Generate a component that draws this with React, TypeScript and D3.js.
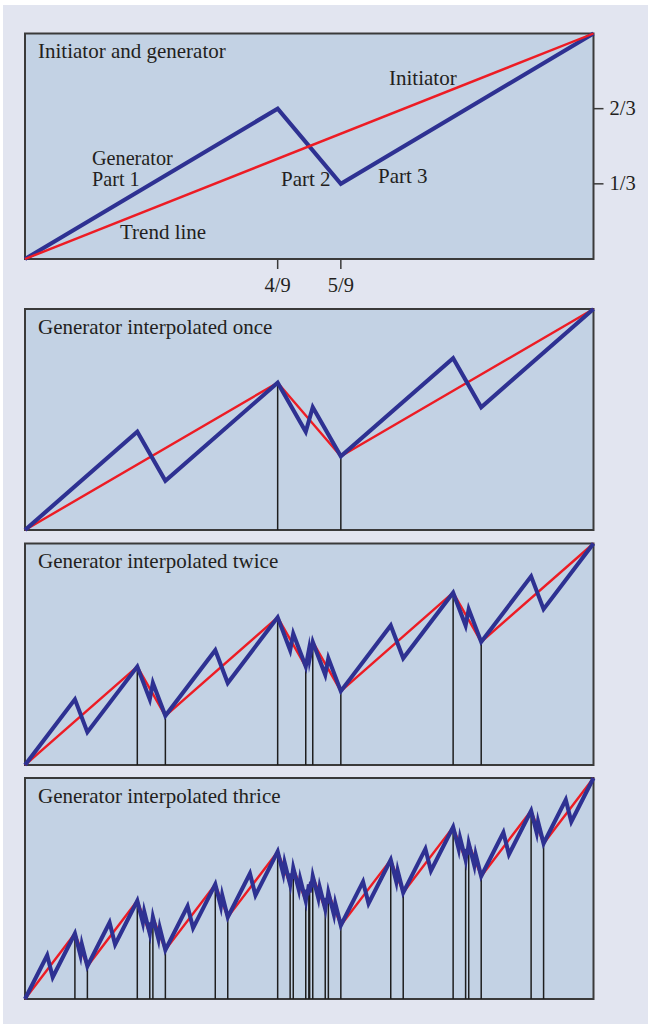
import React from "react";
import * as d3 from "d3";

// Generator of the multifractal cartoon: breakpoints on the unit square
const generatorX = [0, 4 / 9, 5 / 9, 1];
const generatorY = [0, 2 / 3, 1 / 3, 1];

// Panel titles and number of interpolation rounds shown in blue
const panelTitles = [
  "Initiator and generator",
  "Generator interpolated once",
  "Generator interpolated twice",
  "Generator interpolated thrice",
];
const panelLevels = [1, 2, 3, 4];

// Axis ticks of the first panel
const xTickValues = [4 / 9, 5 / 9];
const xTickLabels = ["4/9", "5/9"];
const yTickValues = [2 / 3, 1 / 3];
const yTickLabels = ["2/3", "1/3"];

// Annotations of the first panel
const noteTexts = ["Initiator", "Generator", "Part 1", "Part 2", "Part 3", "Trend line"];

type Pt = [number, number];

// Replace every segment of a polyline by a scaled copy of the generator
function interpolate(points: Pt[]): Pt[] {
  const out: Pt[] = [points[0]];
  for (let i = 0; i < points.length - 1; i++) {
    const [x0, y0] = points[i];
    const [x1, y1] = points[i + 1];
    for (let k = 1; k < generatorX.length; k++) {
      out.push([x0 + generatorX[k] * (x1 - x0), y0 + generatorY[k] * (y1 - y0)]);
    }
  }
  return out;
}

function curveAt(level: number): Pt[] {
  let pts: Pt[] = [
    [0, 0],
    [1, 1],
  ];
  for (let i = 0; i < level; i++) pts = interpolate(pts);
  return pts;
}

const W = 648;
const H = 1024;
const left = 25;
const right = 593.5;
const tops = [33.5, 309, 543.5, 778];
const bottoms = [259, 530, 765, 999];

const FONT = '"Liberation Serif", Tinos, "Times New Roman", Times, "DejaVu Serif", serif';
const TEXT = "#231f20";
const BLUE = "#2e3192";
const RED = "#ed1c24";
const PANEL = "#c3d2e4";
const OUTER = "#e2e5f0";

const textStyle: React.CSSProperties = { fontFamily: FONT };

// Pixel offsets of the first-panel notes from the panel's top-left corner
const noteOffsets: [number, number][] = [
  [364, 51.5],
  [67, 131],
  [67, 152.5],
  [256, 152.5],
  [353, 149.5],
  [95, 205.5],
];
const noteSizes = [21, 20.2, 20.2, 21, 21, 21];

function Panel({ idx }: { idx: number }) {
  const top = tops[idx];
  const bottom = bottoms[idx];
  const x = d3.scaleLinear().domain([0, 1]).range([left, right]);
  const y = d3.scaleLinear().domain([0, 1]).range([bottom, top]);
  const line = d3
    .line<Pt>()
    .x((d) => x(d[0]))
    .y((d) => y(d[1]));

  const level = panelLevels[idx];
  const blue = curveAt(level);
  const red = curveAt(level - 1);
  const inner = red.slice(1, -1);

  const bluePath = (
    <path
      d={line(blue) || ""}
      fill="none"
      stroke={BLUE}
      strokeWidth={4.1}
      strokeLinejoin="miter"
      strokeMiterlimit={10}
    />
  );
  const redPath = <path d={line(red) || ""} fill="none" stroke={RED} strokeWidth={2.4} />;

  return (
    <g>
      <rect
        x={left}
        y={top}
        width={right - left}
        height={bottom - top}
        fill={PANEL}
        stroke="#3a3a3a"
        strokeWidth={2}
      />
      {inner.map((p, i) => (
        <line
          key={i}
          x1={x(p[0])}
          x2={x(p[0])}
          y1={y(p[1])}
          y2={bottom}
          stroke="#1e1e1e"
          strokeWidth={1.5}
        />
      ))}
      {idx === 0 ? (
        <g>
          {bluePath}
          {redPath}
        </g>
      ) : (
        <g>
          {redPath}
          {bluePath}
        </g>
      )}
      <text x={38} y={top + 24.8} style={textStyle} fontSize={21} fill={TEXT}>
        {panelTitles[idx]}
      </text>
      {idx === 0 && (
        <g>
          {noteTexts.map((t, i) => (
            <text
              key={t}
              x={left + noteOffsets[i][0]}
              y={top + noteOffsets[i][1]}
              style={textStyle}
              fontSize={noteSizes[i]}
              fill={TEXT}
            >
              {t}
            </text>
          ))}
          {xTickValues.map((v, i) => (
            <g key={"x" + i}>
              <line x1={x(v)} x2={x(v)} y1={bottom} y2={bottom + 10} stroke="#3a3a3a" strokeWidth={1.5} />
              <text
                x={x(v)}
                y={bottom + 33}
                textAnchor="middle"
                style={textStyle}
                fontSize={20.5}
                fill={TEXT}
              >
                {xTickLabels[i]}
              </text>
            </g>
          ))}
          {yTickValues.map((v, i) => (
            <g key={"y" + i}>
              <line x1={right} x2={right + 10} y1={y(v)} y2={y(v)} stroke="#3a3a3a" strokeWidth={1.5} />
              <text x={right + 16} y={y(v) + 6.5} style={textStyle} fontSize={20.5} fill={TEXT}>
                {yTickLabels[i]}
              </text>
            </g>
          ))}
        </g>
      )}
    </g>
  );
}

export default function App() {
  return (
    <svg
      width={W}
      height={H}
      viewBox={`0 0 ${W} ${H}`}
      style={{ position: "absolute", left: 0, top: 0, display: "block" }}
    >
      <rect x={0} y={0} width={W} height={H} fill="#ffffff" />
      <rect x={3} y={5} width={W - 3} height={H - 5} fill={OUTER} />
      {panelTitles.map((_, i) => (
        <Panel key={i} idx={i} />
      ))}
    </svg>
  );
}
